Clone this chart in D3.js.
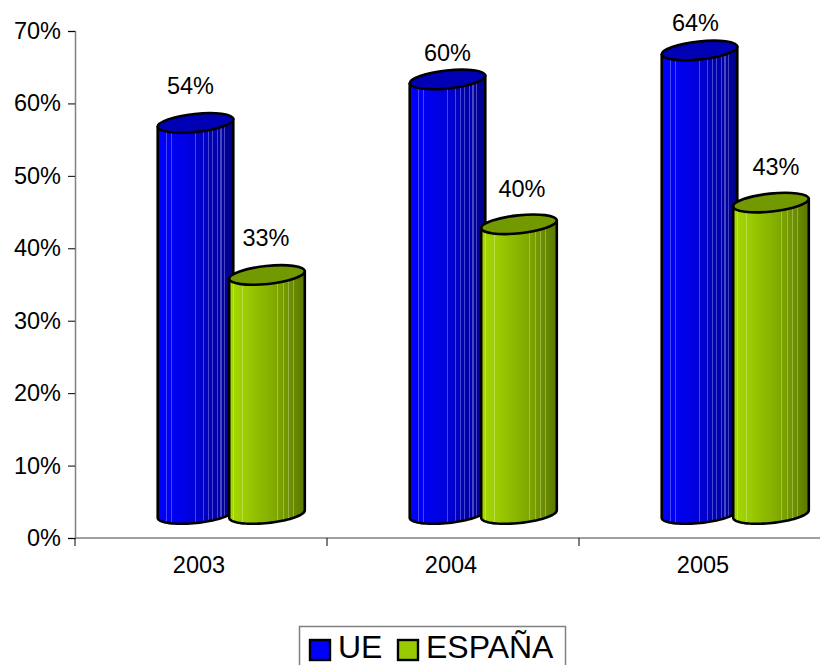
<!DOCTYPE html>
<html><head><meta charset="utf-8">
<script src="https://cdnjs.cloudflare.com/ajax/libs/d3/7.8.5/d3.min.js"></script>
<style>html,body{margin:0;padding:0;background:#fff;overflow:hidden}svg{display:block}text{font-family:"Liberation Sans",Arial,sans-serif;fill:#000}</style>
</head><body><svg id="c" width="820" height="665"></svg>
<script>
const years = ["2003","2004","2005"];
const seriesNames = ["UE","ESPAÑA"];
const ue = [54,60,64];
const espana = [33,40,43];
const yTicks = [0,10,20,30,40,50,60,70];

const svg = d3.select("#c");
const defs = svg.append("defs");
const H0 = 538, H1 = 31, L = 75, BW = 252;
const y = d3.scaleLinear().domain([0,70]).range([H0,H1]);
const x = d3.scaleBand().domain(years).range([L,L+BW*3]);
const floorDrop = 24, rx = 38, ry = 9, rot = -6*Math.PI/180;

function grad(id, light, mid, dark, stripes){
  const g = defs.append("linearGradient").attr("id",id).attr("x1",0).attr("x2",1).attr("y1",0).attr("y2",0);
  const s = (o,c)=>g.append("stop").attr("offset",o).attr("stop-color",c);
  const ramp = o => o<0.4 ? d3.interpolateRgb(light,mid)(o/0.4) : d3.interpolateRgb(mid,dark)((o-0.4)/0.6);
  let prev = 0;
  stripes.forEach(p=>{
    s(prev,ramp(prev)); s(p,ramp(p));
    const c = d3.interpolateRgb(ramp(p),"#fff")(0.28);
    s(p,c); s(p+0.014,c); prev = p+0.014;
  });
  s(prev,ramp(prev)); s(1,ramp(1));
}
grad("gBlue","#0000ff","#0000e6","#00008c",[0.105,0.17,0.49,0.6,0.67,0.72,0.78,0.83,0.88]);
grad("gGreen","#a6d800","#94c400","#5a7800",[0.05,0.17,0.63,0.71,0.78,0.84]);

// axes
const yAxis = d3.axisLeft(y).tickValues(yTicks).tickFormat(d=>d+"%").tickSize(7).tickPadding(7);
const ya = svg.append("g").attr("transform",`translate(${L},0)`).call(yAxis);
svg.append("line").attr("x1",L).attr("x2",820).attr("y1",H0).attr("y2",H0).attr("stroke","#808080").attr("stroke-width",1.5);
ya.select(".domain").attr("stroke","#808080").attr("stroke-width",1.5);
ya.selectAll(".tick line").attr("stroke","#000");
ya.selectAll(".tick text").attr("font-size",23.5).style("font-family",'"Liberation Sans"').attr("fill","#000").attr("dy","0.32em");
svg.selectAll(".xt").data(years).enter().append("line").attr("class","xt")
  .attr("x1",d=>x(d)+x.bandwidth()).attr("x2",d=>x(d)+x.bandwidth()).attr("y1",H0).attr("y2",H0+8)
  .attr("stroke","#000");
svg.append("line").attr("x1",L).attr("x2",L).attr("y1",H0).attr("y2",H0+8).attr("stroke","#000");
svg.selectAll(".xl").data(years).enter().append("text").attr("class","xl")
  .attr("x",d=>x(d)+x.bandwidth()/2-2).attr("y",573).attr("text-anchor","middle").attr("font-size",23.5).text(d=>d);

const line = d3.line();
function ellPt(cx,cy,t){
  const ex = rx*Math.cos(t), ey = ry*Math.sin(t);
  return [cx+ex*Math.cos(rot)-ey*Math.sin(rot), cy+ex*Math.sin(rot)+ey*Math.cos(rot)];
}
function cyl(cx, v, fill, top){
  const yb = y(v)-floorDrop, y0 = y(0)-floorDrop;
  const pts = [ellPt(cx,yb,Math.PI)];
  d3.range(0,41).forEach(i=>pts.push(ellPt(cx,y0,Math.PI-i/40*Math.PI)));
  pts.push(ellPt(cx,yb,0));
  const g = svg.append("g");
  g.append("path").attr("d",line(pts)+"Z").attr("fill",`url(#${fill})`).attr("stroke","#000").attr("stroke-width",2.6).attr("stroke-linejoin","round");
  g.append("ellipse").attr("transform",`translate(${cx},${yb}) rotate(-6)`).attr("rx",rx).attr("ry",ry).attr("fill",top).attr("stroke","#000").attr("stroke-width",2.6);
}
const nudge = [[[-5,-37],[-1,-37]],[[0,-27],[3,-36]],[[-4,-28],[5,-36]]];
years.forEach((yr,i)=>{
  const c = x(yr)+x.bandwidth()/2+31;
  cyl(c-36.5, ue[i], "gBlue", "#0000b4");
  cyl(c+35, espana[i], "gGreen", "#729900");
});
years.forEach((yr,i)=>{
  const c = x(yr)+x.bandwidth()/2+31;
  [[ue[i],c-36.5],[espana[i],c+35]].forEach((p,j)=>{
    svg.append("text").attr("x",p[1]+nudge[i][j][0]).attr("y",y(p[0])-floorDrop+nudge[i][j][1]+8.5)
      .attr("text-anchor","middle").attr("font-size",23.5).text(p[0]+"%");
  });
});
// legend
svg.append("rect").attr("x",299.5).attr("y",626.5).attr("width",266).attr("height",50).attr("fill","#fff").attr("stroke","#808080").attr("stroke-width",1.5);
const lg = [[309,339,"#0000ff"],[397,427,"#99cc00"]];
seriesNames.forEach((n,i)=>{
  svg.append("rect").attr("x",lg[i][0]+1).attr("y",640).attr("width",20).attr("height",20).attr("fill",lg[i][2]).attr("stroke","#000").attr("stroke-width",2.4);
  svg.append("text").attr("x",lg[i][1]-1).attr("y",658).attr("font-size",32).text(n);
});
</script></body></html>
